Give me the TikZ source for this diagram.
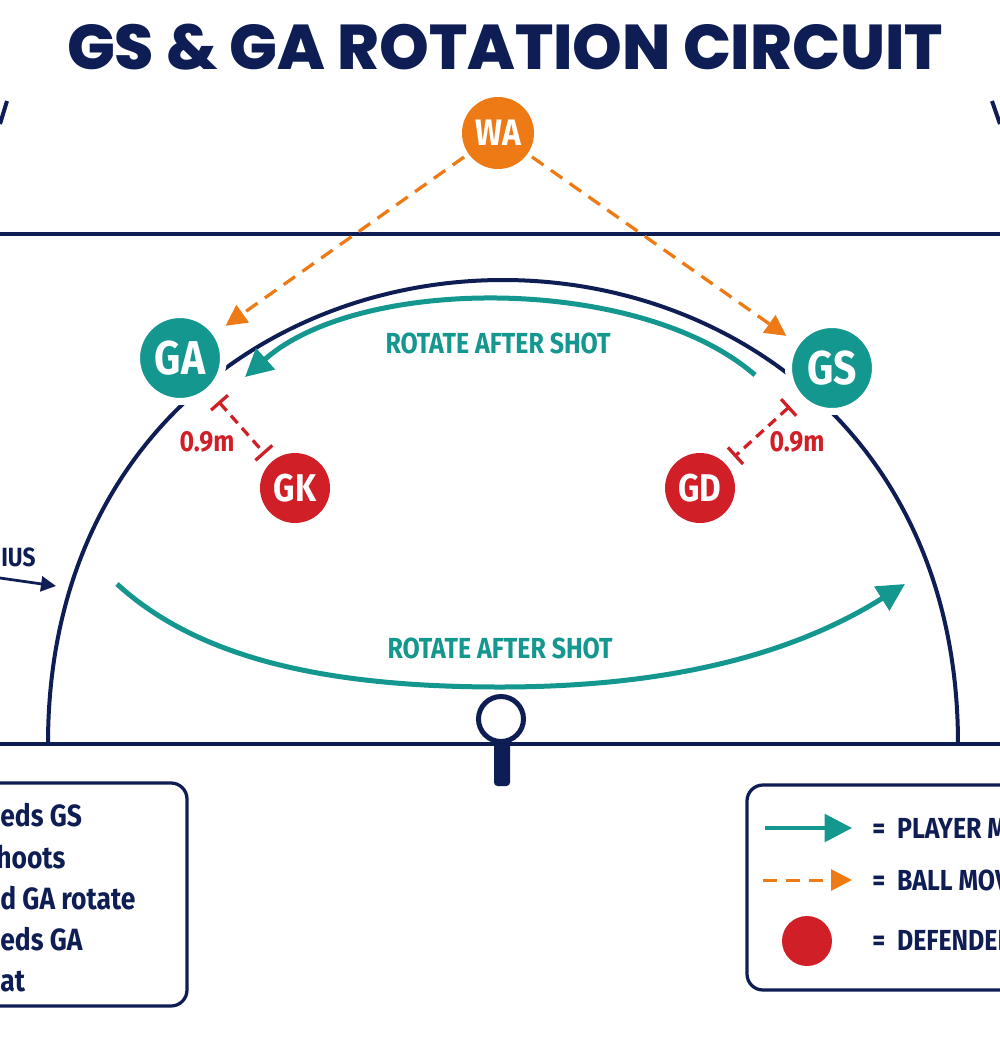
\documentclass[tikz,border=0pt]{standalone}
\usepackage{fontspec}
\setmainfont{Fira Sans}[FakeStretch=0.86]
\newfontfamily\titlefont{Poppins ExtraBold}
\usepackage{xcolor}
\usetikzlibrary{arrows.meta}

\definecolor{courtnavy}{HTML}{0E1E54}
\definecolor{playerteal}{HTML}{14978F}
\definecolor{ballorange}{HTML}{EE7A16}
\definecolor{defred}{HTML}{D11F27}

\begin{document}
\begin{tikzpicture}[
    x=0.02cm, y=0.02cm,
    court/.style={courtnavy, line width=0.075cm},
    player/.style={circle, fill=playerteal, draw=white, line width=0.14cm, text=white,
      minimum size=1.74cm, inner sep=0pt, font=\bfseries\fontsize{27}{30}\selectfont},
    defender/.style={circle, fill=defred, text=white, minimum size=1.4cm, inner sep=0pt,
      font=\bfseries\fontsize{22}{24}\selectfont},
    feeder/.style={circle, fill=ballorange, text=white, minimum size=1.44cm, inner sep=0pt,
      font=\bfseries\fontsize{21}{24}\selectfont},
    move/.style={playerteal, line width=0.1cm, -{Triangle[length=0.55cm,width=0.55cm]}},
    pass/.style={ballorange, line width=0.065cm, dash pattern=on 0.28cm off 0.18cm,
      -{Triangle[length=0.42cm,width=0.42cm]}},
    gap/.style={defred, line width=0.065cm, dash pattern=on 0.2cm off 0.13cm,
      {Bar[width=0.45cm]}-{Bar[width=0.45cm]}},
    lbl/.style={font=\bfseries\fontsize{16.5}{18}\selectfont},
    steptxt/.style={font=\bfseries\fontsize{17.5}{19}\selectfont, text=courtnavy, anchor=base west, inner sep=0pt},
    keytxt/.style={font=\bfseries\fontsize{16.5}{18}\selectfont, text=courtnavy, anchor=base west, inner sep=0pt},
    legend/.style={courtnavy, line width=0.065cm, rounded corners=0.32cm}
]

  % canvas
  \fill[white] (0,0) rectangle (1000,-1056);
  \useasboundingbox (0,0) rectangle (1000,-1056);

  % title
  \node[font=\titlefont\fontsize{36}{40}\selectfont, text=courtnavy] (title) at (505,-47) {GS \& GA ROTATION CIRCUIT};

  % court lines
  \draw[court] (0,-234) -- (1000,-234);
  \draw[court] (0,-744) -- (1000,-744);
  \draw[court, line width=0.08cm] (48,-744) .. controls (48,-438) and (275,-280) .. (503,-280)
    .. controls (731,-280) and (958,-438) .. (958,-744);
  \draw[court, line width=0.08cm] (7,-101) -- (0,-124);
  \draw[court, line width=0.08cm] (992,-101) -- (1000,-124);

  % goal post
  \fill[courtnavy, rounded corners=2pt] (494,-742) rectangle (510,-786);
  \draw[courtnavy, line width=0.1cm, fill=white] (501,-719) circle[radius=0.45cm];

  % radius label
  \coordinate (radfrom) at (0,-578);
  \coordinate (radto) at (56,-586);
  \node[keytxt, font=\bfseries\fontsize{15}{16}\selectfont] (radius) at (1,-566) {IUS};
  \draw[courtnavy, line width=0.055cm, -{Triangle[length=0.3cm,width=0.3cm]}] (radfrom) -- (radto);

  % players
  \node[feeder] (wa) at (498,-133) {WA};
  \node[player] (ga) at (180,-358) {GA};
  \node[player] (gs) at (832,-368) {GS};
  \node[defender] (gk) at (295,-488) {GK};
  \node[defender] (gd) at (700,-488) {GD};

  % ball movement
  \draw[pass, shorten <=3pt, shorten >=5pt] (wa) -- (ga);
  \draw[pass, shorten <=3pt, shorten >=5pt] (wa) -- (gs);

  % marking distance
  \draw[gap, shorten <=0.22cm, shorten >=0.2cm] (ga) -- (gk);
  \draw[gap, shorten <=0.2cm, shorten >=0.22cm] (gs) -- (gd);
  \node[lbl, text=defred] (gkdist) at (207,-442) {0.9m};
  \node[lbl, text=defred] (gddist) at (797,-442) {0.9m};

  % rotation arrows
  \coordinate (topfrom) at (755,-375);
  \coordinate (topto) at (245,-377);
  \draw[move] (topfrom) .. controls (640,-275) and (360,-275) .. (topto);
  \node[lbl, text=playerteal] (toprot) at (498,-343) {ROTATE AFTER SHOT};

  \coordinate (lowfrom) at (117,-584);
  \coordinate (lowmid) at (500,-687);
  \coordinate (lowto) at (905,-584);
  \draw[move] (lowfrom) .. controls (200,-660) and (330,-687) .. (lowmid)
    .. controls (680,-687) and (800,-650) .. (lowto);
  \node[lbl, text=playerteal] (lowrot) at (500,-648) {ROTATE AFTER SHOT};

  % steps legend
  \draw[legend] (-30,-783) rectangle (187,-1006);
  \foreach \t/\x/\y [count=\j] in {eds GS/0/826, hoots/-4/868, d GA rotate/0/909, eds GA/0/950, at/0/991}
    \node[steptxt] (step\j) at (\x,-\y) {\t};

  % key legend
  \draw[legend] (747,-785) rectangle (1030,-990);
  \coordinate (keymovefrom) at (765,-828);
  \coordinate (keymoveto) at (852,-828);
  \coordinate (keypassfrom) at (763,-880);
  \coordinate (keypassto) at (852,-880);
  \draw[move, line width=0.09cm] (keymovefrom) -- (keymoveto);
  \draw[pass, line width=0.06cm] (keypassfrom) -- (keypassto);
  \node[circle, fill=defred, minimum size=1cm, inner sep=0pt] (keydef) at (807,-941) {};
  \node[keytxt] (keymove) at (872,-838) {=\ \ PLAYER M};
  \node[keytxt] (keypass) at (872,-890) {=\ \ BALL MOV};
  \node[keytxt] (keydeftxt) at (872,-950) {=\ \ DEFENDER};

\end{tikzpicture}
\end{document}
